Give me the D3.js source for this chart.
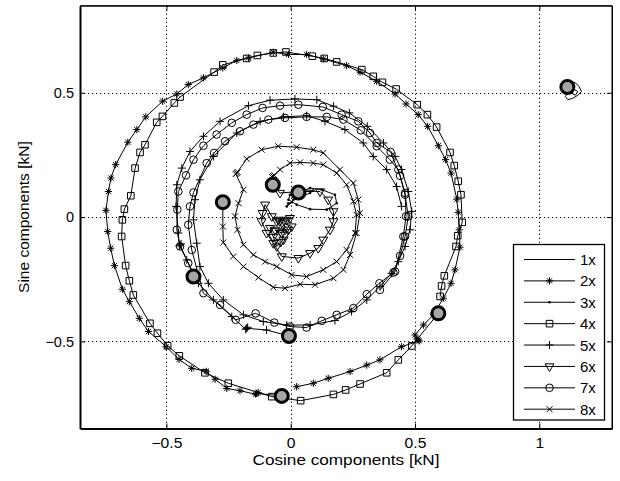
<!DOCTYPE html>
<html><head><meta charset="utf-8">
<script src="https://cdn.jsdelivr.net/npm/d3@7"></script>
<style>
body{margin:0;background:#fff}
text{font-family:"Liberation Sans",Arial,Helvetica,sans-serif;fill:#000}
</style>
</head><body>
<svg id="chart" width="620" height="481"></svg>
<script>
// ---------- data ----------
const xDomain = [-0.8475, 1.2925];
const yDomain = [-0.85, 0.85];
const xTicks = [-0.5, 0, 0.5, 1];
const yTicks = [-0.5, 0, 0.5];
const xLabel = "Cosine components [kN]";
const yLabel = "Sine components [kN]";
const legendLabels = ["1x","2x","3x","4x","5x","6x","7x","8x"];

const h1x = [[1.113,0.523],[1.125,0.545],[1.145,0.540],[1.160,0.525],[1.170,0.505],[1.155,0.490],[1.135,0.478],[1.115,0.472],[1.105,0.485],[1.118,0.505],[1.138,0.515],[1.155,0.505],[1.145,0.490],[1.130,0.498],[1.120,0.515]];

const h2x = [[-0.036,-0.719],[-0.137,-0.709],[-0.131,-0.705],[-0.142,-0.712],[-0.204,-0.698],[-0.257,-0.689],[-0.304,-0.652],[-0.340,-0.620],[-0.398,-0.608],[-0.449,-0.572],[-0.501,-0.521],[-0.572,-0.460],[-0.609,-0.407],[-0.649,-0.340],[-0.677,-0.290],[-0.709,-0.195],[-0.724,-0.125],[-0.736,-0.058],[-0.743,0.027],[-0.733,0.103],[-0.723,0.157],[-0.704,0.211],[-0.655,0.301],[-0.619,0.352],[-0.583,0.403],[-0.515,0.466],[-0.458,0.495],[-0.412,0.533],[-0.351,0.560],[-0.273,0.600],[-0.217,0.630],[-0.170,0.640],[-0.070,0.663],[-0.009,0.654],[0.064,0.654],[0.131,0.636],[0.225,0.609],[0.279,0.583],[0.346,0.546],[0.420,0.495],[0.464,0.455],[0.513,0.412],[0.551,0.365],[0.594,0.287],[0.623,0.231],[0.645,0.177],[0.668,0.072],[0.674,0.019],[0.678,-0.051],[0.681,-0.121],[0.661,-0.212],[0.645,-0.266],[0.614,-0.326],[0.574,-0.393],[0.534,-0.434],[0.500,-0.474],[0.513,-0.494],[0.508,-0.490],[0.517,-0.498],[0.446,-0.521],[0.359,-0.574],[0.306,-0.595],[0.239,-0.621],[0.151,-0.648],[0.091,-0.668],[0.024,-0.682]];

const h3x = [[0.031,0.099],[0.078,0.117],[0.125,0.110],[0.178,0.090],[0.185,0.056],[0.145,0.030],[0.078,0.032],[0.024,0.050],[-0.009,0.070],[-0.003,0.090],[0.038,0.110],[0.091,0.107],[0.078,0.097],[0.011,0.070],[-0.016,0.043],[0.005,0.060],[-0.010,0.055]];

const h4x = [[0.594,-0.387],[0.487,-0.518],[0.433,-0.574],[0.386,-0.626],[0.279,-0.671],[0.221,-0.695],[0.172,-0.713],[0.040,-0.738],[-0.076,-0.722],[-0.251,-0.668],[-0.345,-0.626],[-0.448,-0.558],[-0.495,-0.517],[-0.536,-0.467],[-0.566,-0.427],[-0.633,-0.313],[-0.649,-0.256],[-0.664,-0.195],[-0.680,-0.078],[-0.677,-0.011],[-0.669,0.032],[-0.643,0.086],[-0.626,0.197],[-0.606,0.260],[-0.586,0.291],[-0.539,0.381],[-0.516,0.405],[-0.468,0.459],[-0.445,0.483],[-0.308,0.583],[-0.273,0.612],[-0.177,0.638],[-0.134,0.650],[-0.070,0.660],[-0.019,0.664],[0.087,0.647],[0.135,0.638],[0.185,0.624],[0.286,0.593],[0.332,0.566],[0.369,0.542],[0.424,0.515],[0.509,0.452],[0.550,0.412],[0.587,0.362],[0.641,0.260],[0.658,0.207],[0.674,0.144],[0.685,0.090],[0.690,-0.021],[0.672,-0.075],[0.665,-0.118],[0.618,-0.236],[0.607,-0.277],[0.601,-0.319]];

const h5x = [[-0.007,-0.478],[-0.097,-0.454],[-0.177,-0.447],[-0.173,-0.443],[-0.181,-0.451],[-0.237,-0.400],[-0.311,-0.333],[-0.371,-0.266],[-0.418,-0.172],[-0.445,-0.112],[-0.441,-0.108],[-0.448,-0.116],[-0.452,-0.064],[-0.461,0.043],[-0.458,0.130],[-0.438,0.197],[-0.405,0.264],[-0.351,0.325],[-0.284,0.385],[-0.170,0.448],[-0.083,0.470],[0.017,0.475],[0.105,0.472],[0.172,0.446],[0.236,0.419],[0.308,0.365],[0.373,0.298],[0.420,0.244],[0.446,0.191],[0.473,0.103],[0.487,0.023],[0.480,-0.051],[0.460,-0.118],[0.433,-0.179],[0.406,-0.226],[0.359,-0.279],[0.306,-0.333],[0.245,-0.380],[0.178,-0.416],[0.078,-0.434],[-0.016,-0.434],[-0.110,-0.420],[-0.190,-0.393],[-0.271,-0.333],[-0.331,-0.266],[-0.365,-0.199],[-0.378,-0.105],[-0.391,-0.011],[-0.385,0.070],[-0.365,0.150],[-0.311,0.244],[-0.217,0.338],[-0.123,0.385],[-0.029,0.403],[0.064,0.408],[0.138,0.385],[0.218,0.352],[0.292,0.298],[0.332,0.244],[0.386,0.191],[0.426,0.123],[0.446,0.043]];

const h6x = [[-0.072,0.130],[-0.043,0.097],[0.038,0.103],[0.118,0.103],[0.151,0.070],[0.172,0.023],[0.172,-0.017],[0.158,-0.051],[0.131,-0.091],[0.111,-0.125],[0.078,-0.145],[0.031,-0.165],[-0.036,-0.158],[-0.070,-0.105],[-0.097,-0.064],[-0.117,-0.017],[-0.113,0.016],[-0.103,0.050],[-0.076,0.003],[-0.056,-0.017],[-0.016,-0.011],[-0.036,-0.064],[-0.063,-0.051],[-0.029,-0.091],[-0.056,-0.118],[-0.083,-0.044],[-0.009,-0.051],[-0.043,-0.017],[0.004,-0.038],[-0.023,-0.071],[-0.050,-0.011],[-0.003,-0.004],[-0.070,-0.080],[-0.040,-0.100]];

const h7x = [[-0.391,-0.239],[-0.412,-0.185],[-0.445,-0.118],[-0.458,-0.051],[-0.456,0.030],[-0.452,0.103],[-0.421,0.168],[-0.391,0.231],[-0.351,0.287],[-0.298,0.332],[-0.237,0.379],[-0.177,0.412],[-0.113,0.439],[-0.043,0.448],[0.031,0.452],[0.129,0.443],[0.205,0.412],[0.272,0.385],[0.319,0.338],[0.346,0.298],[0.402,0.262],[0.440,0.166],[0.460,0.090],[0.473,0.003],[0.460,-0.078],[0.440,-0.156],[0.413,-0.223],[0.357,-0.266],[0.306,-0.310],[0.252,-0.366],[0.185,-0.393],[0.125,-0.417],[0.064,-0.444],[-0.003,-0.440],[-0.066,-0.424],[-0.141,-0.387],[-0.221,-0.413],[-0.284,-0.353],[-0.351,-0.306],[-0.398,-0.132],[-0.412,-0.031],[-0.405,0.043],[-0.391,0.099],[-0.338,0.217],[-0.308,0.258],[-0.264,0.305],[-0.204,0.345],[-0.150,0.372],[-0.090,0.392],[-0.023,0.399],[0.064,0.403],[0.145,0.403],[0.212,0.392],[0.282,0.349],[0.346,0.285],[0.399,0.231],[0.433,0.191],[0.460,0.097],[0.464,0.003],[0.453,-0.078],[0.420,-0.219],[0.359,-0.293]];

const h8x = [[-0.273,0.060],[-0.273,-0.038],[-0.271,-0.102],[-0.231,-0.158],[-0.190,-0.199],[-0.130,-0.243],[-0.070,-0.282],[-0.023,-0.286],[0.038,-0.270],[0.098,-0.272],[0.172,-0.246],[0.212,-0.212],[0.239,-0.152],[0.265,-0.064],[0.279,0.016],[0.272,0.070],[0.252,0.137],[0.198,0.191],[0.131,0.258],[0.091,0.271],[0.024,0.281],[-0.050,0.285],[-0.117,0.271],[-0.177,0.234],[-0.217,0.177],[-0.213,0.181],[-0.221,0.173],[-0.190,0.110],[-0.210,0.056],[-0.224,0.003],[-0.214,-0.051],[-0.190,-0.111],[-0.150,-0.152],[-0.103,-0.179],[-0.056,-0.199],[0.004,-0.232],[0.064,-0.239],[0.131,-0.212],[0.185,-0.179],[0.225,-0.132],[0.259,-0.064],[0.265,0.009],[0.252,0.063],[0.225,0.130],[0.185,0.177],[0.131,0.211],[0.091,0.217],[0.038,0.220],[-0.003,0.217],[-0.043,0.191],[-0.070,0.164],[-0.066,0.168],[-0.074,0.160]];

const seriesData = [h1x, h2x, h3x, h4x, h5x, h6x, h7x, h8x];

// ---------- styles ----------
const markerTypes = ["none","asterisk","dot","square","plus","tri","circle","cross"];

const plot = {left: 80, right: 612, top: 5.7, bottom: 428.5};
const svg = d3.select("#chart");

const x = d3.scaleLinear().domain(xDomain).range([plot.left, plot.right]);
const y = d3.scaleLinear().domain(yDomain).range([plot.bottom, plot.top]);

// grid
const grid = svg.append("g");
grid.selectAll("line.gx").data(xTicks).join("line")
  .attr("x1", d => Math.round(x(d)) + 0.5).attr("x2", d => Math.round(x(d)) + 0.5)
  .attr("y1", plot.top).attr("y2", plot.bottom)
  .attr("stroke", "#000").attr("stroke-width", 1).attr("stroke-dasharray", "1.2,2.8");
grid.selectAll("line.gy").data(yTicks).join("line")
  .attr("y1", d => Math.round(y(d)) + 0.5).attr("y2", d => Math.round(y(d)) + 0.5)
  .attr("x1", plot.left).attr("x2", plot.right)
  .attr("stroke", "#000").attr("stroke-width", 1).attr("stroke-dasharray", "1.2,2.8");

// marker paths
function markerPath(t) {
  const s = 3.6, a = s * 0.72;
  switch (t) {
    case "asterisk": return `M${-s},0H${s}M0,${-s}V${s}M${-a},${-a}L${a},${a}M${-a},${a}L${a},${-a}`;
    case "plus": return `M-4,0H4M0,-4V4`;
    case "cross": return `M-3,-3L3,3M-3,3L3,-3`;
    case "square": return `M-3.3,-3.3H3.3V3.3H-3.3Z`;
    case "tri": return `M-4.5,-2.6H4.5L0,5Z`;
    default: return null;
  }
}
function drawMarker(g, t) {
  if (t === "none") return;
  if (t === "circle") {
    g.append("circle").attr("r", 3.8).attr("fill", "none").attr("stroke", "#000").attr("stroke-width", 1);
  } else if (t === "dot") {
    g.append("circle").attr("r", 1.3).attr("fill", "#000");
  } else {
    g.append("path").attr("d", markerPath(t)).attr("fill", "none").attr("stroke", "#000").attr("stroke-width", 1);
  }
}

const line = d3.line().x(d => x(d[0])).y(d => y(d[1]));
const dataG = svg.append("g");
seriesData.forEach((pts, i) => {
  const g = dataG.append("g");
  g.append("path").attr("d", line(pts)).attr("fill", "none").attr("stroke", "#000").attr("stroke-width", 1).attr("stroke-linejoin", "round");
  if (markerTypes[i] !== "none") {
    g.selectAll("g.m").data(pts).join("g")
      .attr("transform", d => `translate(${x(d[0])},${y(d[1])})`)
      .each(function () { drawMarker(d3.select(this), markerTypes[i]); });
  }
});
// start points (large grey circles)
dataG.append("g").selectAll("circle").data(seriesData.map(s => s[0])).join("circle")
  .attr("cx", d => x(d[0])).attr("cy", d => y(d[1])).attr("r", 6.5)
  .attr("fill", "#a6a6a6").attr("stroke", "#000").attr("stroke-width", 3);

// axes box
svg.append("line").attr("x1", plot.left).attr("x2", plot.right).attr("y1", plot.top).attr("y2", plot.top).attr("stroke", "#000").attr("stroke-width", 1);
svg.append("line").attr("x1", plot.right).attr("x2", plot.right).attr("y1", plot.top).attr("y2", plot.bottom).attr("stroke", "#000").attr("stroke-width", 1);

const fmt = d => (d < 0 ? "\u2212" : "") + Math.abs(d);
const axB = svg.append("g").attr("transform", `translate(0,${plot.bottom})`)
  .call(d3.axisBottom(x).tickValues(xTicks).tickFormat(fmt).tickSizeInner(-5).tickSizeOuter(0).tickPadding(10));
const axT = svg.append("g").attr("transform", `translate(0,${plot.top})`)
  .call(d3.axisTop(x).tickValues(xTicks).tickFormat("").tickSizeInner(-5).tickSizeOuter(0));
const axL = svg.append("g").attr("transform", `translate(${plot.left},0)`)
  .call(d3.axisLeft(y).tickValues(yTicks).tickFormat(fmt).tickSizeInner(-5).tickSizeOuter(0).tickPadding(6));
const axR = svg.append("g").attr("transform", `translate(${plot.right},0)`)
  .call(d3.axisRight(y).tickValues(yTicks).tickFormat("").tickSizeInner(-5).tickSizeOuter(0));
[axB, axT, axL, axR].forEach(a => {
  a.selectAll("text").attr("font-size", 14.5).attr("font-family", "Liberation Sans, Arial, sans-serif").attr("fill", "#000");
  a.selectAll(".tick line").attr("stroke", "#000");
});
axB.selectAll("text").attr("font-size", 14).attr("transform", "scale(1.12,1)");
axB.select(".domain").attr("stroke", "#000").attr("stroke-width", 2);
axL.select(".domain").attr("stroke", "#000").attr("stroke-width", 2);
axT.select(".domain").attr("stroke", "#000").attr("stroke-width", 1);
axR.select(".domain").attr("stroke", "#000").attr("stroke-width", 1);

// axis labels
svg.append("text").attr("x", (plot.left + plot.right) / 2).attr("y", 465.3)
  .attr("text-anchor", "middle").attr("font-size", 15).attr("textLength", 187).attr("lengthAdjust", "spacingAndGlyphs").text(xLabel);
svg.append("text").attr("transform", `translate(28.5,${(plot.top + plot.bottom) / 2}) rotate(-90)`)
  .attr("text-anchor", "middle").attr("font-size", 15.5).text(yLabel);

// legend
const lg = svg.append("g");
const lgBox = {x: 513.5, y: 244.5, w: 91, h: 175.5};
lg.append("rect").attr("x", lgBox.x).attr("y", lgBox.y).attr("width", lgBox.w).attr("height", lgBox.h)
  .attr("fill", "#fff").attr("stroke", "#000").attr("stroke-width", 1.3);
const rowY = d3.scaleLinear().domain([0, legendLabels.length - 1]).range([259.5, 409.2]);
legendLabels.forEach((lab, i) => {
  const yy = rowY(i);
  lg.append("line").attr("x1", 524).attr("x2", 575).attr("y1", yy).attr("y2", yy).attr("stroke", "#000").attr("stroke-width", 1);
  const mg = lg.append("g").attr("transform", `translate(549.5,${yy})`);
  drawMarker(mg, markerTypes[i]);
  lg.append("text").attr("x", 580).attr("y", yy + 5.5).attr("font-size", 15).text(lab);
});
</script>
</body></html>
